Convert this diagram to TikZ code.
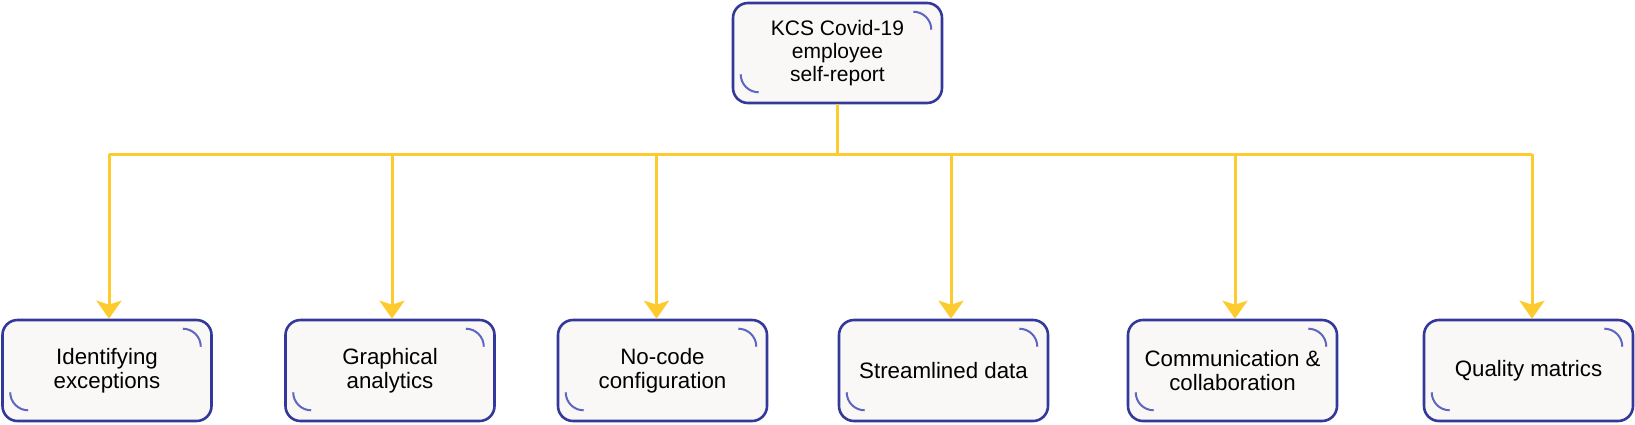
\documentclass[tikz,border=0pt]{standalone}
\usepackage{fontspec}
\setmainfont{Liberation Sans}
\usetikzlibrary{arrows.meta}
\definecolor{boxline}{HTML}{33399A}
\definecolor{arcline}{HTML}{5F66C2}
\definecolor{boxfill}{HTML}{F9F8F6}
\definecolor{gold}{HTML}{FECB2F}
\tikzset{
  card/.style={draw=boxline, line width=2.6pt, fill=boxfill, rounded corners=15pt,
    minimum width=209pt, minimum height=101pt, align=center, inner sep=0pt,
    font=\fontsize{22.3}{24}\selectfont},
  link/.style={draw=gold, line width=3pt},
  arrowlink/.style={link, -{Stealth[length=18pt, width=25pt, inset=4pt]}},
  deco/.style={draw=arcline, line width=2pt},
}
\newcommand{\cardarcs}[1]{%
  \draw[deco] ([xshift=-30pt,yshift=-10pt]#1.north east) arc[start angle=90, end angle=0, radius=18pt];
  \draw[deco] ([xshift=9pt,yshift=30pt]#1.south west) arc[start angle=180, end angle=270, radius=18pt];
}
\begin{document}
\begin{tikzpicture}[x=1pt, y=-1pt]
\useasboundingbox (0,0) rectangle (1635,424);
\node[card, minimum height=100pt, font=\fontsize{21}{23}\selectfont] (top) at (837.5,53) {KCS Covid-19\\employee\\self-report};
\node[card] (b1) at (107,370.5) {Identifying\\exceptions};
\node[card] (b2) at (390,370.5) {Graphical\\analytics};
\node[card] (b3) at (662.5,370.5) {No-code\\configuration};
\node[card] (b4) at (943.5,370.5) {Streamlined data};
\node[card] (b5) at (1232.5,370.5) {Communication \&\\collaboration};
\node[card] (b6) at (1528.5,370.5) {Quality matrics};
\foreach \n in {top,b1,b2,b3,b4,b5,b6}{\cardarcs{\n}}
\coordinate (busL) at (109,154);
\coordinate (busR) at (1532,154);
\draw[link] (top.south) -- (top.south |- busL);
\draw[link] (busL) -- (busR);
\draw[arrowlink] (busL) -- ([xshift=2pt]b1.north);
\draw[arrowlink] ([xshift=2pt]b2.north |- busL) -- ([xshift=2pt]b2.north);
\draw[arrowlink] ([xshift=-6pt]b3.north |- busL) -- ([xshift=-6pt]b3.north);
\draw[arrowlink] ([xshift=7.5pt]b4.north |- busL) -- ([xshift=7.5pt]b4.north);
\draw[arrowlink] ([xshift=2.5pt]b5.north |- busL) -- ([xshift=2.5pt]b5.north);
\draw[arrowlink] (busR) -- ([xshift=3.5pt]b6.north);
\end{tikzpicture}
\end{document}
